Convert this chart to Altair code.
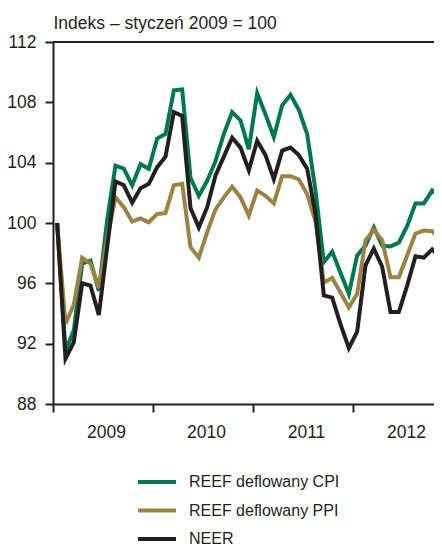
import altair as alt
import pandas as pd

# Monthly data, Jan 2009 .. Nov 2012
start_year = 2009
cpi = [100, 91.5, 92.9, 97.3, 97.5, 95.5, 100.2, 103.8, 103.6, 102.5, 103.9, 103.6,
       105.6, 105.9, 108.8, 108.85, 103.0, 101.8, 102.8, 104.1, 105.9, 107.35, 106.8, 104.9,
       108.6, 107.2, 105.7, 107.8, 108.5, 107.5, 105.9, 102.15, 97.4, 98.1, 96.7, 95.3,
       97.85, 98.5, 99.7, 98.5, 98.45, 98.7, 99.8, 101.3, 101.3, 102.15, 101.7]
ppi = [100, 93.3, 94.6, 97.7, 97.3, 95.7, 99.0, 101.7, 101.05, 100.1, 100.3, 100.05,
       100.6, 100.65, 102.5, 102.6, 98.4, 97.7, 99.4, 100.9, 101.7, 102.4, 101.7, 100.5,
       102.15, 101.8, 101.3, 103.1, 103.1, 102.9, 101.9, 100.1, 96.05, 96.35, 95.4, 94.4,
       95.3, 98.85, 99.55, 98.85, 96.4, 96.4, 97.85, 99.3, 99.5, 99.45, 98.95]
neer = [100, 91.0, 92.1, 96.0, 95.85, 93.9, 98.4, 102.75, 102.5, 101.35, 102.3, 102.6,
        103.7, 104.4, 107.35, 107.1, 101.0, 99.7, 101.05, 103.15, 104.4, 105.65, 105.0, 103.5,
        105.45, 104.5, 102.9, 104.8, 105.0, 104.5, 103.6, 100.6, 95.2, 95.05, 93.3, 91.7,
        92.8, 97.2, 98.3, 97.1, 94.1, 94.1, 95.85, 97.8, 97.7, 98.25, 97.7]

series_names = ["REEF deflowany CPI", "REEF deflowany PPI", "NEER"]
series_values = [cpi, ppi, neer]
colors = ["#00794f", "#9a8343", "#231f20"]
year_ticks = [2009, 2010, 2011, 2012]
y_ticks = [88, 92, 96, 100, 104, 108, 112]
x_domain = [2009, 2012.81]
y_domain = [88, 112]
title_text = "Indeks – styczeń 2009 = 100"

rows = []
for name, vals in zip(series_names, series_values):
    for i, v in enumerate(vals):
        rows.append({"series": name, "t": start_year + (i + 0.5) / 12, "value": v})
df = pd.DataFrame(rows)

FONT = "Liberation Sans"
DARK = "#231f20"

x_enc = alt.X("t:Q", scale=alt.Scale(domain=x_domain, nice=False, zero=False),
              axis=alt.Axis(values=year_ticks, format="d", title=None, labelOffset=53,
                            labelFlush=False, tickSize=8, tickWidth=2, tickColor=DARK,
                            domainColor=DARK, domainWidth=2, labelFontSize=17.5,
                            labelColor=DARK, labelFont=FONT, labelPadding=11,
                            grid=True, gridColor="white", gridWidth=1.5, labelOverlap=False))
y_enc = alt.Y("value:Q", scale=alt.Scale(domain=y_domain, nice=False, zero=False),
              axis=alt.Axis(values=y_ticks, title=title_text, titleAngle=0, titleAlign="left",
                            titleBaseline="alphabetic", titleX=0, titleY=-13.5,
                            titleFontSize=17.5, titleFontWeight="normal", titleFont=FONT,
                            titleColor=DARK, tickSize=8, tickWidth=2, tickColor=DARK,
                            domainColor=DARK, domainWidth=2, labelFontSize=17.5,
                            labelColor=DARK, labelFont=FONT, labelPadding=9,
                            grid=True, gridColor="white", gridWidth=1.5, labelOverlap=False))
color_enc = alt.Color("series:N", scale=alt.Scale(domain=series_names, range=colors),
                      legend=alt.Legend(orient="none", legendX=92.5, legendY=428.5, title=None,
                                        symbolType="M-2,0H2", symbolSize=361,
                                        symbolStrokeWidth=4, labelFontSize=16,
                                        labelFont=FONT, labelColor=DARK, labelOffset=20.5,
                                        rowPadding=8.5, padding=0))

base = alt.Chart(df)
layers = []
for name in series_names:
    layers.append(base.transform_filter(alt.datum.series == name)
                  .mark_line(strokeWidth=4, strokeJoin="miter", clip=True)
                  .encode(x=x_enc, y=y_enc, color=color_enc))

top_border = alt.Chart(pd.DataFrame({"a": [0]})).mark_rule(color=DARK, strokeWidth=2).encode(
    x=alt.datum(x_domain[0]), x2=alt.datum(x_domain[1]), y=alt.datum(y_domain[1]))

chart = alt.layer(*layers, top_border).properties(
    width=381, height=362,
    padding={"left": 45, "top": 34, "right": 0, "bottom": 144},
    autosize=alt.AutoSizeParams(type="none"),
).configure_view(fill="#d8ddd6", stroke=None).configure(background="white")

chart.save("out.html", embed_options={"renderer": "svg", "actions": False})
